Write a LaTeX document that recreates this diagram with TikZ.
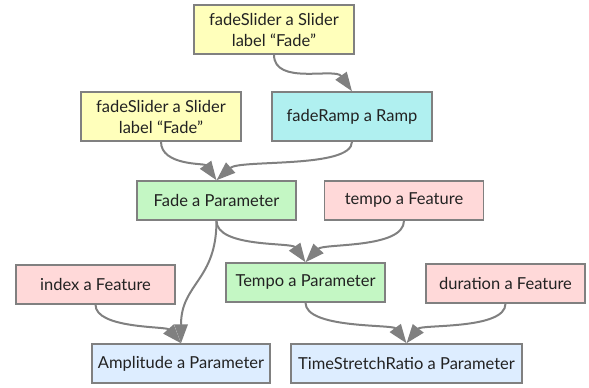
\documentclass[tikz,border=0pt]{standalone}
\usepackage{fontspec}
\setmainfont{Lato}
\usetikzlibrary{arrows.meta}
\definecolor{cyel}{RGB}{255,255,187}
\definecolor{ccyan}{RGB}{176,240,240}
\definecolor{cgreen}{RGB}{196,247,196}
\definecolor{cpink}{RGB}{255,217,217}
\definecolor{cblue}{RGB}{221,237,255}
\definecolor{cline}{RGB}{128,128,128}
\definecolor{ctext}{RGB}{34,34,34}
\tikzset{
  box/.style={draw=cline, line width=1.5pt, text=ctext, inner sep=0pt,
    minimum height=39pt, minimum width=159pt, align=center,
    font=\fontsize{16.5}{21}\selectfont},
  tall/.style={minimum height=49pt, minimum width=160pt},
  link/.style={draw=cline, line width=2pt, -{Triangle[length=19pt,width=13.5pt]}},
}
\begin{document}
\begin{tikzpicture}[x=1pt,y=-1pt]
\useasboundingbox (0,0) rectangle (589,388);
\node[box,tall,fill=cyel] (A) at (274,29.5) {fadeSlider a Slider\\label “Fade”};
\node[box,tall,fill=cyel] (B) at (161,116.5) {fadeSlider a Slider\\label “Fade”};
\node[box,tall,fill=ccyan] (C) at (352,116.5) {fadeRamp a Ramp};
\node[box,fill=cgreen] (F) at (216.5,200.5) {Fade a Parameter};
\node[box,fill=cpink] (TF) at (404,200.5) {tempo a Feature};
\node[box,fill=cpink] (IX) at (95.5,284.5) {index a Feature};
\node[box,fill=cgreen] (T) at (305.5,282.5) {Tempo a Parameter};
\node[box,fill=cpink] (D) at (505.5,283.5) {duration a Feature};
\node[box,fill=cblue,minimum width=178pt] (AM) at (181,363.5) {Amplitude a Parameter};
\node[box,fill=cblue,minimum width=231pt] (TS) at (406.5,363.5) {TimeStretchRatio a Parameter};

\draw[link] (A.south) .. controls ([shift={(0,31)}]A.south) and ([shift={(-17,-24)}]C.north) .. (C.north);
\draw[link] (B.south) .. controls ([shift={(0,24)}]B.south) and ([shift={(-12,-17)}]F.north) .. (F.north);
\draw[link] (C.south) .. controls ([shift={(0,27)}]C.south) and ([shift={(23.5,-21)}]F.north) .. (F.north);
\draw[link] (F.south) .. controls ([shift={(0,27)}]F.south) and ([shift={(-14,-20)}]T.north) .. (T.north);
\draw[link] (TF.south) .. controls ([shift={(0,28)}]TF.south) and ([shift={(18,-19)}]T.north) .. (T.north);
\draw[link] (F.south) .. controls ([shift={(0,60)}]F.south) and ([shift={(0,-60)}]AM.north) .. (AM.north);
\draw[link] (IX.south) .. controls ([shift={(0,24)}]IX.south) and ([shift={(-15,-17)}]AM.north) .. (AM.north);
\draw[link] (T.south) .. controls ([shift={(0,26)}]T.south) and ([shift={(-14,-19)}]TS.north) .. (TS.north);
\draw[link] (D.south) .. controls ([shift={(0,26)}]D.south) and ([shift={(15,-19)}]TS.north) .. (TS.north);
\end{tikzpicture}
\end{document}
